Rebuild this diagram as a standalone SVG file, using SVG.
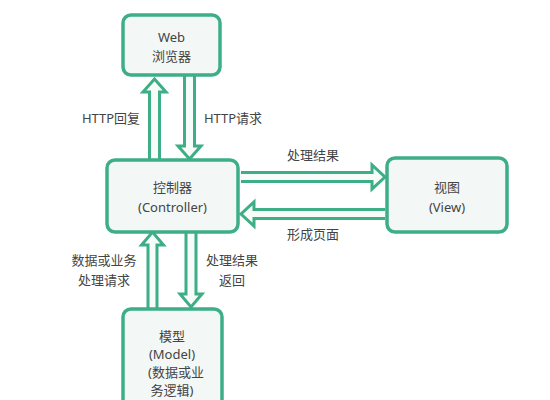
<svg xmlns="http://www.w3.org/2000/svg" width="550" height="400" viewBox="0 0 550 400">
<style>
.box{fill:#f3f7f6;stroke:#3dae86;stroke-width:3.5}
.arr{fill:#f7fbf9;stroke:#3dae86;stroke-width:3;stroke-linejoin:miter}
text{font-family:"Noto Sans","Noto Sans CJK SC",sans-serif;font-size:13px;fill:#444;text-anchor:middle}
</style>
<rect width="550" height="400" fill="#ffffff"/>
<g id="connectors">
<path class="arr" d="M149.5,160 L149.5,92 L143,92 L154.5,79 L166,92 L159.5,92 L159.5,160"/>
<path class="arr" d="M184.5,75 L184.5,146 L178,146 L189.5,159 L201,146 L194.5,146 L194.5,75"/>
<path class="arr" d="M241,172.5 L372,172.5 L372,165 L385,177 L372,189 L372,181.5 L241,181.5"/>
<path class="arr" d="M385,209.5 L254,209.5 L254,202 L241,214 L254,226 L254,218.5 L385,218.5"/>
<path class="arr" d="M148,309 L148,245 L141.5,245 L152.5,232 L163.5,245 L157,245 L157,309"/>
<path class="arr" d="M186,233 L186,294 L180,294 L191,307 L202,294 L196,294 L196,233"/>
<text x="111" y="123">HTTP回复</text>
<text x="233" y="123">HTTP请求</text>
<text x="313" y="160">处理结果</text>
<text x="313" y="239">形成页面</text>
<text x="104" y="265">数据或业务</text>
<text x="104" y="285">处理请求</text>
<text x="232" y="265">处理结果</text>
<text x="232" y="285">返回</text>
</g>
<g id="web">
<rect class="box" x="123" y="15" width="97" height="60" rx="8"/>
<text x="171.5" y="42">Web</text>
<text x="171.5" y="61">浏览器</text>
</g>
<g id="controller">
<rect class="box" x="107" y="160" width="131" height="72" rx="8"/>
<text x="172.5" y="192">控制器</text>
<text x="172.5" y="212">(Controller)</text>
</g>
<g id="view">
<rect class="box" x="387" y="158" width="120" height="74" rx="8"/>
<text x="447" y="192">视图</text>
<text x="447" y="212">(View)</text>
</g>
<g id="model">
<rect class="box" x="123" y="309" width="99" height="110" rx="8"/>
<text x="172" y="341">模型</text>
<text x="172" y="359">(Model)</text>
<text x="176" y="377">(数据或业</text>
<text x="172" y="395">务逻辑)</text>
</g>
</svg>
